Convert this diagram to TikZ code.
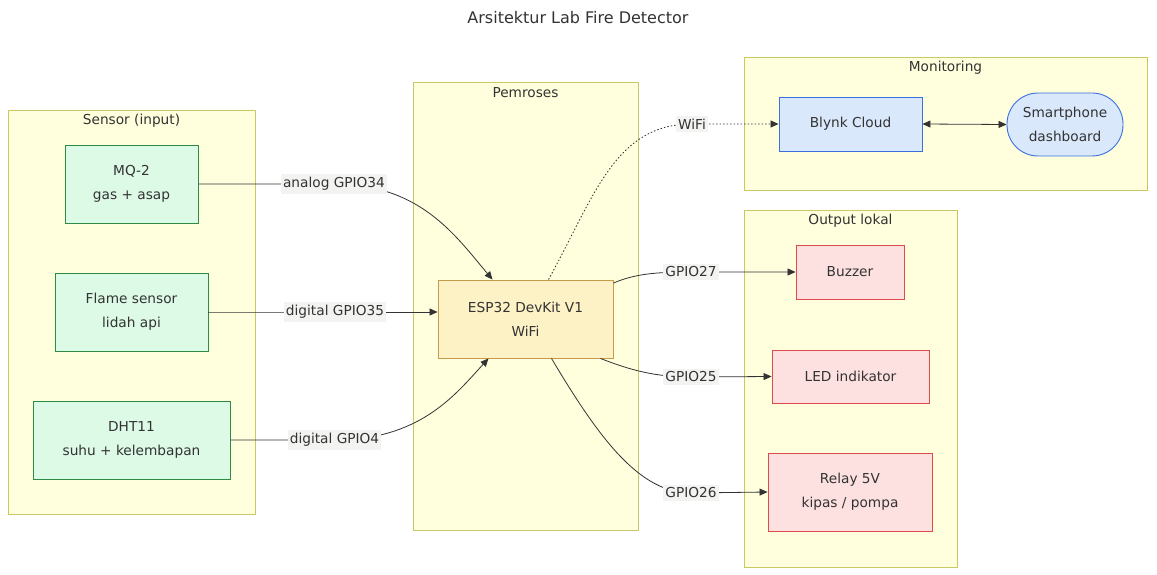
\documentclass[tikz,border=0pt]{standalone}
\usepackage{fontspec}
\setmainfont{DejaVu Sans}
\usetikzlibrary{arrows.meta}
\definecolor{clfill}{HTML}{FFFFDE}
\definecolor{cldraw}{HTML}{C8C864}
\definecolor{gfill}{HTML}{DCFAE6}
\definecolor{gdraw}{HTML}{2E8B46}
\definecolor{ofill}{HTML}{FDF1C6}
\definecolor{odraw}{HTML}{C89B4A}
\definecolor{bfill}{HTML}{DAE8FC}
\definecolor{bdraw}{HTML}{3A6FE0}
\definecolor{rfill}{HTML}{FDE0E0}
\definecolor{rdraw}{HTML}{DA4B4B}
\definecolor{edgec}{HTML}{333333}
\definecolor{labfill}{HTML}{F3F3F1}
\definecolor{txt}{HTML}{333333}
\tikzset{
  cluster/.style={draw=cldraw, fill=clfill, line width=0.9pt},
  cltitle/.style={text=txt, font=\fontsize{13.7}{16}\selectfont, inner sep=0pt},
  box/.style={rectangle, inner sep=0pt, align=center, text=txt, line width=0.9pt,
    font=\fontsize{13.7}{24}\selectfont},
  sensorbox/.style={box, fill=gfill, draw=gdraw},
  procbox/.style={box, fill=ofill, draw=odraw},
  cloudbox/.style={box, fill=bfill, draw=bdraw},
  outbox/.style={box, fill=rfill, draw=rdraw},
  elabel/.style={fill=labfill, text=txt, inner xsep=2pt, inner ysep=3pt,
    font=\fontsize{13.7}{16}\selectfont},
  conn/.style={draw=edgec, line width=0.8pt, -{Triangle[length=8pt,width=7pt]}},
  dotconn/.style={conn, dash pattern=on 1.5pt off 2pt},
}
\begin{document}
\begin{tikzpicture}[x=1pt,y=-1pt]
\useasboundingbox[fill=white] (0,0) rectangle (1157,575);

\node[text=txt, font=\fontsize{16}{18}\selectfont] (title) at (578,18) {Arsitektur Lab Fire Detector};

% clusters
\draw[cluster] (8,110) rectangle (255,514);
\node[cltitle] (tsensor) at (131.5,121) {Sensor (input)};
\draw[cluster] (413,82) rectangle (638,530);
\node[cltitle] (tproc) at (525.5,93) {Pemroses};
\draw[cluster] (744,57) rectangle (1147,190);
\node[cltitle] (tmon) at (945.5,68) {Monitoring};
\draw[cluster] (744,210) rectangle (957,567);
\node[cltitle] (tout) at (850.5,221) {Output lokal};

% nodes
\node[sensorbox, minimum width=133pt, minimum height=78pt] (mq) at (131.5,184) {MQ-2\\gas + asap};
\node[sensorbox, minimum width=153pt, minimum height=78pt] (flame) at (131.5,312) {Flame sensor\\lidah api};
\node[sensorbox, minimum width=197pt, minimum height=78pt] (dht) at (131.5,440) {DHT11\\suhu + kelembapan};
\node[procbox, minimum width=175pt, minimum height=78pt] (esp) at (525.5,319) {ESP32 DevKit V1\\WiFi};
\node[cloudbox, minimum width=143pt, minimum height=54pt] (blynk) at (850.5,124) {Blynk Cloud};
\node[cloudbox, minimum width=116pt, minimum height=63pt, rounded corners=31pt] (phone) at (1065,124.5) {Smartphone\\dashboard};
\node[outbox, minimum width=108pt, minimum height=54pt] (buzzer) at (850,272) {Buzzer};
\node[outbox, minimum width=157pt, minimum height=53pt] (led) at (850.5,376.5) {LED indikator};
\node[outbox, minimum width=164pt, minimum height=78pt] (relay) at (850,492) {Relay 5V\\kipas / pompa};

% label positions
\coordinate (l1) at (334,184);
\coordinate (l2) at (335,312);
\coordinate (l3) at (334.5,440);
\coordinate (l4) at (692,124);
\coordinate (l5) at (691,272);
\coordinate (l6) at (691,377);
\coordinate (l7) at (691,493);

% connectors
\draw[conn] (mq.east) -- (l1) .. controls (420,184) and (455,235) .. ([xshift=-33pt]esp.north);
\draw[conn] (flame.east) -- (l2) -- (esp.west |- l2);
\draw[conn] (dht.east) -- (l3) .. controls (420,440) and (455,395) .. ([xshift=-37pt]esp.south);
\draw[dotconn] ([xshift=23pt]esp.north) .. controls (595,195) and (615,124) .. (l4) -- (blynk.west);
\draw[draw=edgec, line width=0.8pt, {Triangle[length=8pt,width=7pt]}-{Triangle[length=8pt,width=7pt]}] (blynk.east) -- (phone.west);
\draw[conn] ([yshift=36pt]esp.east) .. controls (635,274) and (655,272) .. (l5) -- (buzzer.west);
\draw[conn] ([xshift=-13pt]esp.south east) .. controls (630,370) and (655,377) .. (l6) -- (led.west);
\draw[conn] ([xshift=26pt]esp.south) .. controls (600,440) and (640,493) .. (l7) -- (relay.west);

% edge labels
\node[elabel] (e1) at (l1) {analog GPIO34};
\node[elabel] (e2) at (l2) {digital GPIO35};
\node[elabel] (e3) at (l3) {digital GPIO4};
\node[elabel] (e4) at (l4) {WiFi};
\node[elabel] (e5) at (l5) {GPIO27};
\node[elabel] (e6) at (l6) {GPIO25};
\node[elabel] (e7) at (l7) {GPIO26};
\end{tikzpicture}
\end{document}
